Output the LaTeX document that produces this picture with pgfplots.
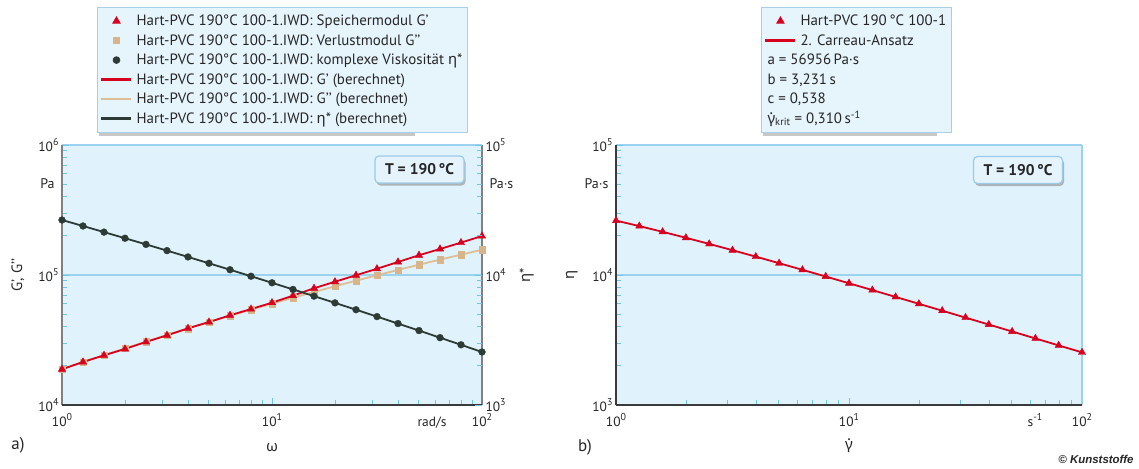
\documentclass[border=0pt]{standalone}
\usepackage{fontspec}
\setmainfont{PT Sans}
\newfontfamily\grk{Noto Sans}
\newfontfamily\arialfont{Liberation Sans}
\usepackage{pgfplots}
\usepackage{pgfplotstable}
\pgfplotsset{compat=1.18}
\usetikzlibrary{shadows}

\definecolor{bgblue}{HTML}{E0F2FC}
\definecolor{gridblue}{HTML}{9BD3EF}
\definecolor{tickblue}{HTML}{6EC6EC}
\definecolor{legfill}{HTML}{E6F4FC}
\definecolor{legdraw}{HTML}{A9CFE8}
\definecolor{kred}{HTML}{D7001E}
\definecolor{ktan}{HTML}{D6B58A}
\definecolor{ktanl}{HTML}{DDBE96}
\definecolor{kdark}{HTML}{2D3B35}
\definecolor{axgray}{HTML}{808080}
\definecolor{axdark}{HTML}{3A3A3A}
\definecolor{txt}{HTML}{262626}
\definecolor{boxfill}{HTML}{E4F3FC}
\definecolor{boxdraw}{HTML}{9CCBEA}

\newcommand{\geta}{{\grk η}}
\newcommand{\gomega}{{\grk ω}}
\newcommand{\ggdot}{{\grk\ooalign{γ\cr\hidewidth\raisebox{0.6em}{.}\hidewidth\cr}}}
\newcommand{\tsup}[1]{\raisebox{0.42em}{\fontsize{10}{10}\selectfont #1}}

\pgfplotstableread{
w Gs Gl eta
1.0000 18840 18836 26485
1.2589 21430 21355 23823
1.5849 24100 24160 21380
1.9953 26980 27277 19187
2.5119 30550 30733 17200
3.1623 34360 34554 15399
3.9811 38900 38771 13772
5.0119 43450 43411 12303
6.3096 48980 48507 10977
7.9433 54700 54088 9784
10.000 61240 60187 8710
12.589 69340 66834 7745
15.849 79070 74063 6879
19.953 88720 81903 6103
25.119 99540 90386 5408
31.623 111700 99540 4786
39.811 125900 109400 4232
50.119 141900 119980 3737
63.096 158500 131310 3296
79.433 177400 143410 2904
100.00 199500 156310 2556
}\dataA

\pgfplotstableread{
g eta
1.0000 26212
1.2589 23787
1.5849 21490
1.9953 19339
2.5119 17346
3.1623 15513
3.9811 13843
5.0119 12329
6.3096 10963
7.9433 9736
10.000 8638
12.589 7657
15.849 6782
19.953 6005
25.119 5314
31.623 4702
39.811 4158
50.119 3677
63.096 3251
79.433 2873
100.00 2540
}\dataB

\pgfplotsset{
  every axis/.append style={
    scale only axis, height=260bp, clip=false,
    axis line style={draw=none},
    tick align=inside,
    major tick length=7bp, minor tick length=5bp,
    tick style={tickblue, line width=0.9bp},
    tick label style={font=\fontsize{13.5}{15}\selectfont, text=txt},
    label style={font=\fontsize{15}{17}\selectfont, text=txt},
    legend cell align=left,
    legend style={fill=legfill, draw=legdraw, line width=0.8bp,
      inner xsep=3bp, inner ysep=4bp, row sep=0pt, column sep=2bp,
      font=\fontsize{15}{17}\selectfont, text=txt,
      nodes={inner ysep=0bp, inner xsep=2bp, text height=14.5bp, text depth=5bp}},
  },
}
\tikzset{xtl/.style={anchor=base, text=txt, font=\fontsize{13.5}{15}\selectfont, yshift=-21.5bp}}
\pgfplotsset{
  mylegline/.style={legend image code/.code={\draw[mark repeat=2,mark phase=2,##1] plot coordinates {(0bp,0bp) (15bp,0bp) (30bp,0bp)};}},
}

\begin{document}
\begin{tikzpicture}[font=\fontsize{14}{16}\selectfont]
\path[use as bounding box] (0,0) rectangle (1139bp,-469bp);
% legend shadows
\fill[black!40, opacity=0.55] (99bp,-10bp) rectangle (415bp,-135.5bp);
\fill[black!40, opacity=0.55] (763bp,-10bp) rectangle (937bp,-135.5bp);

% ---------- plot a, left axis (G', G'') ----------
\begin{axis}[xmode=log, ymode=log, anchor=south west, at={(62bp,-405bp)}, width=420bp,
  axis background/.style={fill=bgblue},
  xmin=1, xmax=100, ymin=1e4, ymax=1e6,
  xtick={1,10,100}, xticklabels={,,},
  minor xtick={2,3,4,5,6,7,8,9,20,30,40,50,60,70,80,90},
  ytick={1e4,1e5,1e6}, yticklabels={10\tsup{4},10\tsup{5},10\tsup{6}},
  minor ytick={2e4,3e4,4e4,5e4,6e4,7e4,8e4,9e4,2e5,3e5,4e5,5e5,6e5,7e5,8e5,9e5},
  xtick pos=bottom, ytick pos=left,
  ymajorgrids, major grid style={gridblue, line width=1.1bp},
  xlabel={\gomega}, xlabel style={at={(axis description cs:0.5,-0.165)}, anchor=center},
  ylabel={G’, G’’}, ylabel style={at={(axis description cs:-0.105,0.5)}, anchor=center},
]
\draw[axgray, line width=1.3bp] (rel axis cs:0,0) -- (rel axis cs:0,1);
\draw[axgray, line width=1.3bp] (rel axis cs:1,0) -- (rel axis cs:1,1);
\draw[axdark, line width=1.3bp] (rel axis cs:0,0) -- (rel axis cs:1,0);
\addplot[ktanl, line width=1.8bp, no marks] table[x=w, y=Gl] {\dataA};
\addplot[kred, line width=1.8bp, no marks] table[x=w, y=Gs] {\dataA};
\addplot[only marks, mark=square*, mark size=3.2bp, color=ktan] table[x=w, y=Gl] {\dataA};
\addplot[only marks, mark=triangle*, mark size=4.2bp, color=kred] table[x=w, y=Gs] {\dataA};
\node[anchor=east, text=txt] at (rel axis cs:0,0.85) [xshift=-4bp] {Pa};
\node[xtl] at (rel axis cs:0,0) {10\tsup{0}};
\node[xtl] at (rel axis cs:0.5,0) {10\tsup{1}};
\node[xtl] at (rel axis cs:1,0) {10\tsup{2}};
\node[xtl] at (rel axis cs:0.881,0) {rad/s};
\end{axis}

% ---------- plot a, right axis (eta*) ----------
\begin{axis}[xmode=log, ymode=log, anchor=south west, at={(62bp,-405bp)}, width=420bp,
  xmin=1, xmax=100, ymin=1e3, ymax=1e5, hide x axis,
  ytick={1e3,1e4,1e5}, yticklabels={10\tsup{3},10\tsup{4},10\tsup{5}},
  minor ytick={2e3,3e3,4e3,5e3,6e3,7e3,8e3,9e3,2e4,3e4,4e4,5e4,6e4,7e4,8e4,9e4},
  ytick pos=right,
  ylabel={\geta*}, ylabel style={at={(axis description cs:1.107,0.5)}, anchor=center},
  legend style={at={(axis description cs:0.0833,1.531)}, anchor=north west},
]
\addplot[kdark, line width=1.8bp, no marks, forget plot] table[x=w, y=eta] {\dataA};
\addplot[only marks, mark=*, mark size=3.4bp, color=kdark, forget plot] table[x=w, y=eta] {\dataA};
\node[anchor=west, text=txt] at (rel axis cs:1,0.85) [xshift=4bp] {Pa·s};
\addlegendimage{only marks, mark=triangle*, mark size=4.2bp, color=kred, mylegline}
\addlegendentry{Hart-PVC 190°C 100-1.IWD: Speichermodul G’}
\addlegendimage{only marks, mark=square*, mark size=3.2bp, color=ktan, mylegline}
\addlegendentry{Hart-PVC 190°C 100-1.IWD: Verlustmodul G’’}
\addlegendimage{only marks, mark=*, mark size=3.4bp, color=kdark, mylegline}
\addlegendentry{Hart-PVC 190°C 100-1.IWD: komplexe Viskosität \geta*}
\addlegendimage{no marks, kred, line width=2.2bp, mylegline}
\addlegendentry{Hart-PVC 190°C 100-1.IWD: G’ (berechnet)}
\addlegendimage{no marks, ktanl, line width=2.2bp, mylegline}
\addlegendentry{Hart-PVC 190°C 100-1.IWD: G’’ (berechnet)}
\addlegendimage{no marks, kdark, line width=2.2bp, mylegline}
\addlegendentry{Hart-PVC 190°C 100-1.IWD: \geta* (berechnet)}
\end{axis}

% ---------- plot b ----------
\begin{axis}[xmode=log, ymode=log, anchor=south west, at={(616bp,-405bp)}, width=466bp,
  axis background/.style={fill=bgblue},
  xmin=1, xmax=100, ymin=1e3, ymax=1e5,
  xtick={1,10,100}, xticklabels={,,},
  minor xtick={2,3,4,5,6,7,8,9,20,30,40,50,60,70,80,90},
  ytick={1e3,1e4,1e5}, yticklabels={10\tsup{3},10\tsup{4},10\tsup{5}},
  minor ytick={2e3,3e3,4e3,5e3,6e3,7e3,8e3,9e3,2e4,3e4,4e4,5e4,6e4,7e4,8e4,9e4},
  xtick pos=bottom, ytick pos=left,
  ymajorgrids, major grid style={gridblue, line width=1.1bp},
  xlabel={\ggdot}, xlabel style={at={(axis description cs:0.5,-0.155)}, anchor=center},
  ylabel={\geta}, ylabel style={at={(axis description cs:-0.094,0.5)}, anchor=center},
  legend style={at={(axis description cs:0.311,1.531)}, anchor=north west},
]
\draw[gridblue, line width=1.1bp] (rel axis cs:1,0) -- (rel axis cs:1,1);
\draw[axdark, line width=1.3bp] (rel axis cs:0,0) -- (rel axis cs:0,1);
\draw[axdark, line width=1.3bp] (rel axis cs:0,0) -- (rel axis cs:1,0);
\addplot[kred, line width=1.8bp, no marks, forget plot] table[x=g, y=eta] {\dataB};
\addplot[only marks, mark=triangle*, mark size=4.2bp, color=kred, forget plot] table[x=g, y=eta] {\dataB};
\node[anchor=east, text=txt] at (rel axis cs:0,0.85) [xshift=-4bp] {Pa·s};
\node[xtl] at (rel axis cs:0,0) {10\tsup{0}};
\node[xtl] at (rel axis cs:0.5,0) {10\tsup{1}};
\node[xtl] at (rel axis cs:1,0) {10\tsup{2}};
\node[xtl] at (rel axis cs:0.899,0) {s\tsup{-1}};
\addlegendimage{only marks, mark=triangle*, mark size=4.2bp, color=kred, mylegline}
\addlegendentry{Hart-PVC 190\,°C 100-1}
\addlegendimage{no marks, kred, line width=2.2bp, mylegline}
\addlegendentry{2. Carreau-Ansatz}
\addlegendimage{empty legend}
\addlegendentry{\hspace{-33bp}a = 56956\,Pa·s}
\addlegendimage{empty legend}
\addlegendentry{\hspace{-33bp}b = 3,231\,s}
\addlegendimage{empty legend}
\addlegendentry{\hspace{-33bp}c = 0,538}
\addlegendimage{empty legend}
\addlegendentry{\hspace{-33bp}\ggdot\textsubscript{krit} = 0,310\,s\textsuperscript{-1}}
\end{axis}

% ---------- annotations ----------
\node[rounded corners=4bp, fill=boxfill, draw=boxdraw, line width=1.2bp,
  drop shadow={shadow xshift=1.5bp, shadow yshift=-2.5bp, fill=black!45, opacity=0.6},
  minimum width=89bp, minimum height=27bp, inner sep=0pt, text=txt,
  font=\fontsize{15.5}{17}\selectfont\bfseries] at (419.5bp,-169.5bp) {T = 190\,°C};
\node[rounded corners=4bp, fill=boxfill, draw=boxdraw, line width=1.2bp,
  drop shadow={shadow xshift=1.5bp, shadow yshift=-2.5bp, fill=black!45, opacity=0.6},
  minimum width=89bp, minimum height=27bp, inner sep=0pt, text=txt,
  font=\fontsize{15.5}{17}\selectfont\bfseries] at (1018bp,-170bp) {T = 190\,°C};
\node[text=txt, font=\fontsize{17}{19}\selectfont] at (18bp,-445bp) {a)};
\node[text=txt, font=\fontsize{17}{19}\selectfont] at (585bp,-447bp) {b)};
\node[anchor=east, text=txt, font=\fontsize{11.5}{13}\selectfont\arialfont\bfseries\itshape] at (1137bp,-459bp) {© Kunststoffe};
\end{tikzpicture}
\end{document}
